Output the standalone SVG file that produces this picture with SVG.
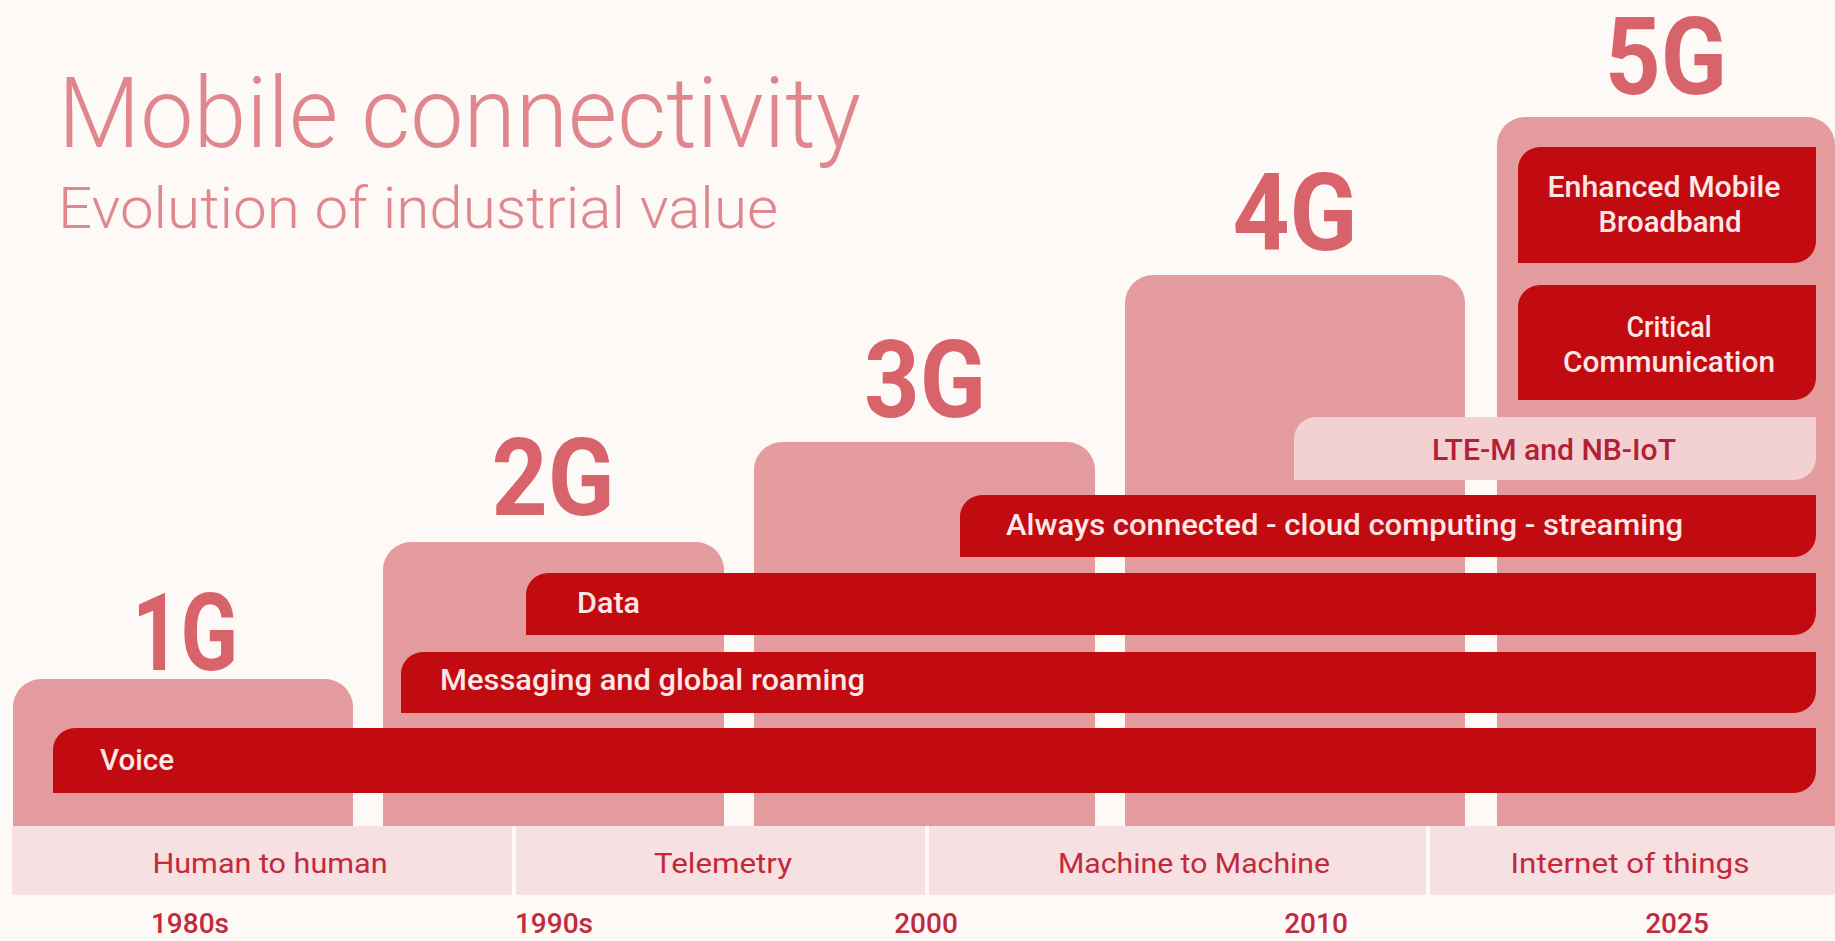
<svg xmlns="http://www.w3.org/2000/svg" width="1835" height="941" viewBox="0 0 1835 941">
  <style>
    text { font-family: Roboto, "Noto Sans", "Liberation Sans", sans-serif; }
    .title { fill: #e0878d; font-weight: 300; }
    .gen { fill: #d9636a; font-weight: 700; font-size: 108px; text-anchor: middle; }
    .box { fill: #e49b9d; }
    .bar { fill: #c20b10; }
    .bar-lt { fill: #f3d0d2; }
    .lbl { fill: #fde7e7; font-weight: 500; font-size: 30px; }
    .lbl-c { fill: #fde7e7; font-weight: 500; font-size: 30px; text-anchor: middle; }
    .lbl-d { fill: #b31f35; font-weight: 500; font-size: 30px; text-anchor: middle; }
    .band { fill: #f6e0e1; }
    .div { stroke: #fffaf9; stroke-width: 4; }
    .band-t { fill: #c2293b; font-size: 28px; text-anchor: middle; }
    .year { fill: #c2293b; font-size: 28px; font-weight: 500; text-anchor: middle; }
  </style>
  <rect x="0" y="0" width="1835" height="941" fill="#fdf9f7"/>

  <g id="heading">
    <text class="title" x="58" y="147" font-size="98" textLength="803" lengthAdjust="spacingAndGlyphs">Mobile connectivity</text>
    <text class="title" x="58" y="228" font-size="58" textLength="720" lengthAdjust="spacingAndGlyphs">Evolution of industrial value</text>
  </g>

  <g id="gen-1G">
    <path class="box" d="M13,826 V707 A28,28 0 0 1 41,679 H325 A28,28 0 0 1 353,707 V826 Z"/>
    <text class="gen" x="185" y="670" textLength="106" lengthAdjust="spacingAndGlyphs">1G</text>
  </g>
  <g id="gen-2G">
    <path class="box" d="M383,826 V570 A28,28 0 0 1 411,542 H696 A28,28 0 0 1 724,570 V826 Z"/>
    <text class="gen" x="553" y="515" textLength="123" lengthAdjust="spacingAndGlyphs">2G</text>
  </g>
  <g id="gen-3G">
    <path class="box" d="M754,826 V470 A28,28 0 0 1 782,442 H1067 A28,28 0 0 1 1095,470 V826 Z"/>
    <text class="gen" x="925" y="417" textLength="122" lengthAdjust="spacingAndGlyphs">3G</text>
  </g>
  <g id="gen-4G">
    <path class="box" d="M1125,826 V303 A28,28 0 0 1 1153,275 H1437 A28,28 0 0 1 1465,303 V826 Z"/>
    <text class="gen" x="1295" y="250" textLength="125" lengthAdjust="spacingAndGlyphs">4G</text>
  </g>
  <g id="gen-5G">
    <path class="box" d="M1497,826 V145 A28,28 0 0 1 1525,117 H1807 A28,28 0 0 1 1835,145 V826 Z"/>
    <text class="gen" x="1666" y="94" font-size="104" textLength="122" lengthAdjust="spacingAndGlyphs">5G</text>
  </g>

  <g id="bar-voice">
    <path class="bar" d="M53,793 V750 A22,22 0 0 1 75,728 H1816 V771 A22,22 0 0 1 1794,793 Z"/>
    <text class="lbl" x="100" y="770" textLength="74" lengthAdjust="spacingAndGlyphs">Voice</text>
  </g>
  <g id="bar-messaging">
    <path class="bar" d="M401,713 V674 A22,22 0 0 1 423,652 H1816 V691 A22,22 0 0 1 1794,713 Z"/>
    <text class="lbl" x="440" y="690" textLength="425" lengthAdjust="spacingAndGlyphs">Messaging and global roaming</text>
  </g>
  <g id="bar-data">
    <path class="bar" d="M526,635 V595 A22,22 0 0 1 548,573 H1816 V613 A22,22 0 0 1 1794,635 Z"/>
    <text class="lbl" x="577" y="613" textLength="63" lengthAdjust="spacingAndGlyphs">Data</text>
  </g>
  <g id="bar-always">
    <path class="bar" d="M960,557 V517 A22,22 0 0 1 982,495 H1816 V535 A22,22 0 0 1 1794,557 Z"/>
    <text class="lbl" x="1006" y="535" textLength="677" lengthAdjust="spacingAndGlyphs">Always connected - cloud computing - streaming</text>
  </g>
  <g id="bar-lte">
    <path class="bar-lt" d="M1294,480 V439 A22,22 0 0 1 1316,417 H1816 V458 A22,22 0 0 1 1794,480 Z"/>
    <text class="lbl-d" x="1554" y="460" textLength="244" lengthAdjust="spacingAndGlyphs">LTE-M and NB-IoT</text>
  </g>
  <g id="bar-critical">
    <path class="bar" d="M1518,400 V307 A22,22 0 0 1 1540,285 H1816 V378 A22,22 0 0 1 1794,400 Z"/>
    <text class="lbl-c" x="1669" y="337" textLength="85" lengthAdjust="spacingAndGlyphs">Critical</text>
    <text class="lbl-c" x="1669" y="372" textLength="212" lengthAdjust="spacingAndGlyphs">Communication</text>
  </g>
  <g id="bar-embb">
    <path class="bar" d="M1518,263 V169 A22,22 0 0 1 1540,147 H1816 V241 A22,22 0 0 1 1794,263 Z"/>
    <text class="lbl-c" x="1664" y="197" textLength="233" lengthAdjust="spacingAndGlyphs">Enhanced Mobile</text>
    <text class="lbl-c" x="1670" y="232" textLength="143" lengthAdjust="spacingAndGlyphs">Broadband</text>
  </g>

  <g id="band">
    <rect class="band" x="12" y="826" width="1823" height="69"/>
    <line class="div" x1="514" y1="826" x2="514" y2="895"/>
    <line class="div" x1="927" y1="826" x2="927" y2="895"/>
    <line class="div" x1="1428" y1="826" x2="1428" y2="895"/>
    <text class="band-t" x="270" y="873" textLength="235" lengthAdjust="spacingAndGlyphs">Human to human</text>
    <text class="band-t" x="723" y="873" textLength="138" lengthAdjust="spacingAndGlyphs">Telemetry</text>
    <text class="band-t" x="1194" y="873" textLength="272" lengthAdjust="spacingAndGlyphs">Machine to Machine</text>
    <text class="band-t" x="1630" y="873" textLength="239" lengthAdjust="spacingAndGlyphs">Internet of things</text>
  </g>

  <g id="years">
    <text class="year" x="190" y="933">1980s</text>
    <text class="year" x="554" y="933">1990s</text>
    <text class="year" x="926" y="933">2000</text>
    <text class="year" x="1316" y="933">2010</text>
    <text class="year" x="1677" y="933">2025</text>
  </g>

  <g id="connectors"/>
</svg>
